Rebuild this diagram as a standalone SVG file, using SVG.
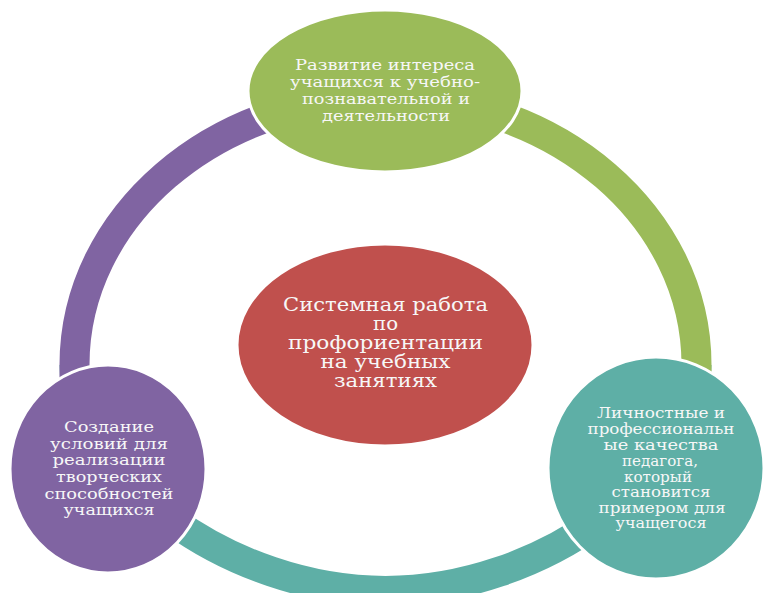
<svg xmlns="http://www.w3.org/2000/svg" width="764" height="593" viewBox="0 0 764 593">
<style>
.ring{fill:none;stroke-width:30;stroke-linecap:butt}
.node{stroke:#ffffff;stroke-width:3}
.t{font-family:"DejaVu Serif","Liberation Serif",serif;fill:#f7f7f7;text-anchor:middle}
.s16{font-size:15.5px}
.s19{font-size:19px}
</style>
<rect width="764" height="593" fill="#ffffff"/>
<g id="connectors">
<path class="ring" stroke="#5eafa6" d="M 696.5 365 C 696.5 478 541 591 385.5 591 C 230 591 74.5 478 74.5 365"/>
<path class="ring" stroke="#8064a2" d="M 74.5 420 L 74.5 365 C 74.5 217 213.7 97 385.5 97"/>
<path class="ring" stroke="#9bbb59" d="M 385.5 97 C 557.3 97 696.5 217 696.5 365 L 696.5 420"/>
</g>
<g id="node-top">
<ellipse class="node" cx="385" cy="91" rx="137" ry="81" fill="#9bbb59"/>
<text class="t s16" lengthAdjust="spacingAndGlyphs"><tspan x="385" y="70" textLength="180" lengthAdjust="spacingAndGlyphs">Развитие интереса</tspan><tspan x="385" y="87" textLength="190" lengthAdjust="spacingAndGlyphs">учащихся к учебно-</tspan><tspan x="386" y="104" textLength="168" lengthAdjust="spacingAndGlyphs">познавательной и</tspan><tspan x="386" y="121" textLength="128" lengthAdjust="spacingAndGlyphs">деятельности</tspan></text>
</g>
<g id="node-center">
<ellipse class="node" cx="385" cy="345" rx="148" ry="101" fill="#c0504d"/>
<text class="t s19"><tspan x="385.5" y="311" textLength="205" lengthAdjust="spacingAndGlyphs">Системная работа</tspan><tspan x="385.5" y="330" textLength="25" lengthAdjust="spacingAndGlyphs">по</tspan><tspan x="385.5" y="349" textLength="195" lengthAdjust="spacingAndGlyphs">профориентации</tspan><tspan x="385.5" y="368" textLength="130" lengthAdjust="spacingAndGlyphs">на учебных</tspan><tspan x="385.5" y="387" textLength="103" lengthAdjust="spacingAndGlyphs">занятиях</tspan></text>
</g>
<g id="node-left">
<ellipse class="node" cx="108" cy="469" rx="98" ry="104" fill="#8064a2"/>
<text class="t s16"><tspan x="109" y="432" textLength="90" lengthAdjust="spacingAndGlyphs">Создание</tspan><tspan x="109" y="449" textLength="118" lengthAdjust="spacingAndGlyphs">условий для</tspan><tspan x="109" y="465" textLength="113" lengthAdjust="spacingAndGlyphs">реализации</tspan><tspan x="109" y="482" textLength="106" lengthAdjust="spacingAndGlyphs">творческих</tspan><tspan x="109" y="499" textLength="129" lengthAdjust="spacingAndGlyphs">способностей</tspan><tspan x="109" y="515" textLength="91" lengthAdjust="spacingAndGlyphs">учащихся</tspan></text>
</g>
<g id="node-right">
<ellipse class="node" cx="656" cy="468" rx="108" ry="111" fill="#5eafa6"/>
<text class="t s16"><tspan x="661" y="418" textLength="128" lengthAdjust="spacingAndGlyphs">Личностные и</tspan><tspan x="661" y="434" textLength="147" lengthAdjust="spacingAndGlyphs">профессиональн</tspan><tspan x="661" y="450" textLength="115" lengthAdjust="spacingAndGlyphs">ые качества</tspan><tspan x="660" y="466" textLength="76" lengthAdjust="spacingAndGlyphs">педагога,</tspan><tspan x="658" y="482" textLength="68" lengthAdjust="spacingAndGlyphs">который</tspan><tspan x="661" y="497" textLength="99" lengthAdjust="spacingAndGlyphs">становится</tspan><tspan x="662" y="513" textLength="127" lengthAdjust="spacingAndGlyphs">примером для</tspan><tspan x="661" y="528" textLength="91" lengthAdjust="spacingAndGlyphs">учащегося</tspan></text>
</g>
</svg>
